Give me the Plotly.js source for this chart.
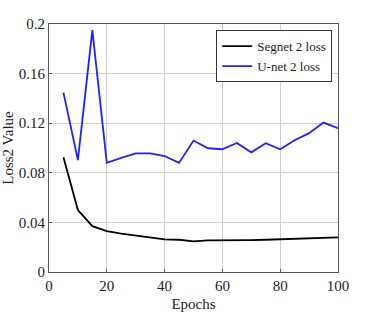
<!DOCTYPE html>
<html>
<head>
<meta charset="utf-8">
<script src="https://cdn.plot.ly/plotly-3.0.1.min.js"></script>
<style>
  html, body { margin: 0; padding: 0; background: #fff; }
  #plotArea { width: 374px; height: 312px; }
</style>
</head>
<body>
<div id="plotArea"></div>
<script>
// Epochs
var epochs = [5, 10, 15, 20, 25, 30, 35, 40, 45, 50, 55, 60, 65, 70, 75, 80, 85, 90, 95, 100];

// Loss values
var segnetLoss = [0.0925, 0.050, 0.037, 0.033, 0.031, 0.0295, 0.028, 0.0263, 0.026, 0.0247, 0.0255, 0.0254,
  0.0255, 0.0257, 0.026, 0.0263, 0.0268, 0.027, 0.0273, 0.028];
var unetLoss = [0.1447, 0.0903, 0.195, 0.088, 0.092, 0.0957, 0.0957, 0.0935, 0.088, 0.106, 0.0998, 0.099,
  0.104, 0.0965, 0.1038, 0.099, 0.1062, 0.112, 0.1205, 0.116];

var yTicks = [0, 0.04, 0.08, 0.12, 0.16, 0.2];
var yTickText = ["0", "0.04", "0.08", "0.12", "0.16", "0.2"];

var segnet = {
  x: epochs,
  y: segnetLoss,
  name: "Segnet 2 loss",
  type: "scatter",
  mode: "lines",
  line: { color: "#000000", width: 1.8 },
};

var unet = {
  x: epochs,
  y: unetLoss,
  name: "U-net 2 loss",
  type: "scatter",
  mode: "lines",
  line: { color: "#1f1fff", width: 1.8 },
};

var axisStyle = {
  showline: true,
  mirror: true,
  linecolor: "#555",
  linewidth: 1,
  showgrid: true,
  gridcolor: "#d0d0d0",
  gridwidth: 1,
  zeroline: false,
  ticks: "inside",
  ticklen: 3,
  tickcolor: "#555",
  tickfont: { family: "Liberation Serif, Times New Roman, serif", size: 15, color: "#222" },
};

var layout = {
  width: 374,
  height: 312,
  margin: { l: 49, r: 36, t: 24, b: 40 },
  paper_bgcolor: "#fff",
  plot_bgcolor: "#fff",
  font: { family: "Liberation Serif, Times New Roman, serif", color: "#222" },
  xaxis: Object.assign({}, axisStyle, {
    range: [0, 100],
    tickvals: [0, 20, 40, 60, 80, 100],
    title: { text: "Epochs", font: { size: 15 }, standoff: 5 },
  }),
  yaxis: Object.assign({}, axisStyle, {
    range: [0, 0.2],
    tickvals: yTicks,
    ticktext: yTickText,
    title: { text: "Loss2 Value", font: { size: 15 }, standoff: 2 },
  }),
  showlegend: true,
  legend: {
    x: 0.98,
    y: 0.975,
    xanchor: "right",
    yanchor: "top",
    bgcolor: "#fff",
    bordercolor: "#333",
    borderwidth: 1,
    font: { size: 13, color: "#222" },
    itemwidth: 30,
    tracegroupgap: 0,
  },
};

Plotly.newPlot("plotArea", [segnet, unet], layout, { displayModeBar: false, staticPlot: true });
</script>
</body>
</html>
